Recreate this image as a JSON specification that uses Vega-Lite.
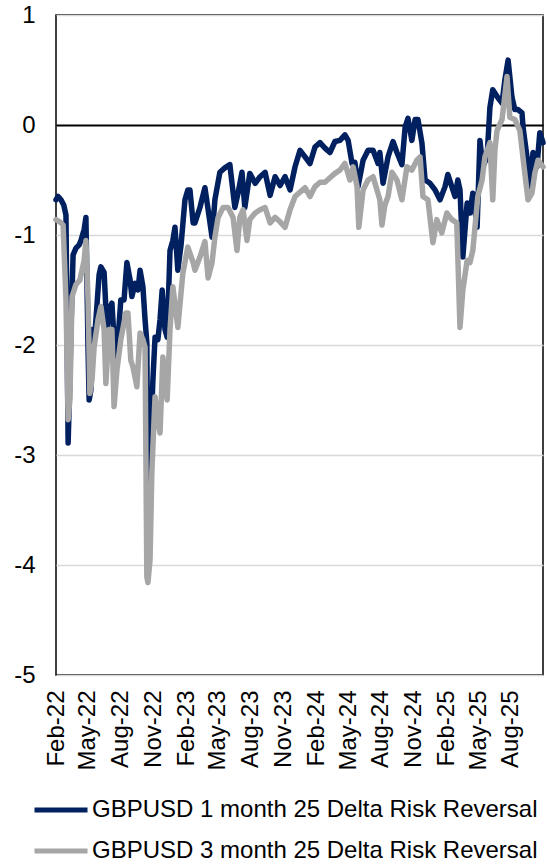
{
  "$schema": "https://vega.github.io/schema/vega-lite/v6.json",
  "width": 487,
  "height": 660,
  "autosize": {"type": "none"},
  "padding": {"left": 56, "top": 15, "right": 4, "bottom": 191},
  "background": "white",
  "config": {
    "view": {"stroke": "black", "strokeWidth": 1.5},
    "font": "Liberation Sans",
    "axis": {"title": null, "domain": false, "ticks": false, "labelFont": "Liberation Sans", "labelFontSize": 24, "labelColor": "black", "grid": false}
  },
  "datasets": {
    "m1": [
      {"date": "2022-02-01", "value": -0.68}, {"date": "2022-02-07", "value": -0.65}, {"date": "2022-02-15", "value": -0.68}, {"date": "2022-02-23", "value": -0.73},
      {"date": "2022-03-01", "value": -0.82}, {"date": "2022-03-07", "value": -2.89}, {"date": "2022-03-12", "value": -2.32}, {"date": "2022-03-15", "value": -1.86},
      {"date": "2022-03-21", "value": -1.18}, {"date": "2022-03-29", "value": -1.12}, {"date": "2022-04-07", "value": -1.09}, {"date": "2022-04-12", "value": -1.05},
      {"date": "2022-04-21", "value": -0.95}, {"date": "2022-04-26", "value": -0.84}, {"date": "2022-05-02", "value": -2.05}, {"date": "2022-05-05", "value": -2.5},
      {"date": "2022-05-10", "value": -2.41}, {"date": "2022-05-13", "value": -1.86}, {"date": "2022-05-21", "value": -1.91}, {"date": "2022-06-02", "value": -1.36},
      {"date": "2022-06-07", "value": -1.29}, {"date": "2022-06-16", "value": -1.34}, {"date": "2022-06-24", "value": -1.86}, {"date": "2022-06-30", "value": -1.68},
      {"date": "2022-07-08", "value": -1.62}, {"date": "2022-07-14", "value": -1.95}, {"date": "2022-07-19", "value": -2.25}, {"date": "2022-07-25", "value": -1.95},
      {"date": "2022-08-02", "value": -1.59}, {"date": "2022-08-11", "value": -1.59}, {"date": "2022-08-19", "value": -1.25}, {"date": "2022-08-28", "value": -1.41},
      {"date": "2022-09-02", "value": -1.56}, {"date": "2022-09-11", "value": -1.44}, {"date": "2022-09-19", "value": -1.5}, {"date": "2022-09-25", "value": -1.32},
      {"date": "2022-10-03", "value": -1.47}, {"date": "2022-10-09", "value": -1.77}, {"date": "2022-10-14", "value": -1.98}, {"date": "2022-10-17", "value": -3.62},
      {"date": "2022-10-23", "value": -3.14}, {"date": "2022-10-26", "value": -2.75}, {"date": "2022-10-31", "value": -2.32}, {"date": "2022-11-06", "value": -1.93},
      {"date": "2022-11-14", "value": -1.95}, {"date": "2022-11-20", "value": -1.77}, {"date": "2022-11-26", "value": -1.5}, {"date": "2022-12-04", "value": -1.86},
      {"date": "2022-12-10", "value": -1.93}, {"date": "2022-12-18", "value": -1.14}, {"date": "2022-12-26", "value": -1.05}, {"date": "2023-01-01", "value": -0.93},
      {"date": "2023-01-09", "value": -1.32}, {"date": "2023-01-18", "value": -1.09}, {"date": "2023-01-29", "value": -0.68}, {"date": "2023-02-06", "value": -0.59},
      {"date": "2023-02-12", "value": -0.59}, {"date": "2023-02-21", "value": -0.89}, {"date": "2023-02-26", "value": -0.89}, {"date": "2023-03-12", "value": -0.75},
      {"date": "2023-03-26", "value": -0.57}, {"date": "2023-04-04", "value": -0.77}, {"date": "2023-04-15", "value": -1.02}, {"date": "2023-04-23", "value": -0.68},
      {"date": "2023-05-07", "value": -0.43}, {"date": "2023-05-21", "value": -0.39}, {"date": "2023-06-04", "value": -0.36}, {"date": "2023-06-18", "value": -0.75},
      {"date": "2023-06-27", "value": -0.62}, {"date": "2023-07-08", "value": -0.43}, {"date": "2023-07-16", "value": -0.75}, {"date": "2023-07-30", "value": -0.44},
      {"date": "2023-08-14", "value": -0.53}, {"date": "2023-08-28", "value": -0.47}, {"date": "2023-09-11", "value": -0.43}, {"date": "2023-09-25", "value": -0.64},
      {"date": "2023-10-09", "value": -0.47}, {"date": "2023-10-23", "value": -0.55}, {"date": "2023-11-06", "value": -0.47}, {"date": "2023-11-20", "value": -0.59},
      {"date": "2023-12-04", "value": -0.38}, {"date": "2023-12-18", "value": -0.23}, {"date": "2024-01-01", "value": -0.29}, {"date": "2024-01-15", "value": -0.35},
      {"date": "2024-01-29", "value": -0.2}, {"date": "2024-02-12", "value": -0.16}, {"date": "2024-02-26", "value": -0.21}, {"date": "2024-03-11", "value": -0.25},
      {"date": "2024-03-25", "value": -0.15}, {"date": "2024-04-08", "value": -0.14}, {"date": "2024-04-22", "value": -0.09}, {"date": "2024-05-01", "value": -0.14},
      {"date": "2024-05-12", "value": -0.35}, {"date": "2024-05-20", "value": -0.34}, {"date": "2024-05-29", "value": -0.56}, {"date": "2024-06-12", "value": -0.32},
      {"date": "2024-06-26", "value": -0.23}, {"date": "2024-07-10", "value": -0.23}, {"date": "2024-07-24", "value": -0.35}, {"date": "2024-07-29", "value": -0.25},
      {"date": "2024-08-07", "value": -0.53}, {"date": "2024-08-21", "value": -0.29}, {"date": "2024-09-04", "value": -0.15}, {"date": "2024-09-15", "value": -0.25},
      {"date": "2024-09-29", "value": -0.36}, {"date": "2024-10-08", "value": -0.02}, {"date": "2024-10-16", "value": 0.06}, {"date": "2024-10-27", "value": -0.14},
      {"date": "2024-11-05", "value": 0.05}, {"date": "2024-11-13", "value": 0.05}, {"date": "2024-11-24", "value": -0.16}, {"date": "2024-12-03", "value": -0.5},
      {"date": "2024-12-17", "value": -0.53}, {"date": "2024-12-31", "value": -0.59}, {"date": "2025-01-14", "value": -0.68}, {"date": "2025-01-28", "value": -0.56},
      {"date": "2025-02-05", "value": -0.45}, {"date": "2025-02-16", "value": -0.56}, {"date": "2025-02-25", "value": -0.65}, {"date": "2025-03-05", "value": -0.5},
      {"date": "2025-03-11", "value": -0.59}, {"date": "2025-03-19", "value": -1.2}, {"date": "2025-03-31", "value": -0.71}, {"date": "2025-04-08", "value": -0.8},
      {"date": "2025-04-16", "value": -0.62}, {"date": "2025-04-28", "value": -0.93}, {"date": "2025-05-06", "value": -0.14}, {"date": "2025-05-14", "value": -0.38},
      {"date": "2025-05-26", "value": -0.29}, {"date": "2025-06-03", "value": 0.16}, {"date": "2025-06-11", "value": 0.32}, {"date": "2025-06-25", "value": 0.25},
      {"date": "2025-07-07", "value": 0.2}, {"date": "2025-07-15", "value": 0.41}, {"date": "2025-07-24", "value": 0.59}, {"date": "2025-08-04", "value": 0.25},
      {"date": "2025-08-12", "value": 0.14}, {"date": "2025-08-21", "value": 0.14}, {"date": "2025-09-01", "value": 0.11}, {"date": "2025-09-04", "value": -0.02},
      {"date": "2025-09-15", "value": -0.29}, {"date": "2025-09-23", "value": -0.56}, {"date": "2025-10-02", "value": -0.25}, {"date": "2025-10-13", "value": -0.38},
      {"date": "2025-10-21", "value": -0.07}, {"date": "2025-10-30", "value": -0.16}
    ],
    "m3": [
      {"date": "2022-02-01", "value": -0.86}, {"date": "2022-02-12", "value": -0.88}, {"date": "2022-02-21", "value": -0.91}, {"date": "2022-03-01", "value": -1.59},
      {"date": "2022-03-07", "value": -2.68}, {"date": "2022-03-12", "value": -2.5}, {"date": "2022-03-18", "value": -1.56}, {"date": "2022-03-29", "value": -1.45},
      {"date": "2022-04-09", "value": -1.41}, {"date": "2022-04-21", "value": -1.23}, {"date": "2022-04-26", "value": -1.05}, {"date": "2022-05-02", "value": -1.59},
      {"date": "2022-05-07", "value": -2.44}, {"date": "2022-05-13", "value": -2.32}, {"date": "2022-05-19", "value": -2.02}, {"date": "2022-05-30", "value": -1.77},
      {"date": "2022-06-07", "value": -1.65}, {"date": "2022-06-16", "value": -1.86}, {"date": "2022-06-21", "value": -2.35}, {"date": "2022-06-30", "value": -1.86},
      {"date": "2022-07-08", "value": -1.86}, {"date": "2022-07-14", "value": -2.56}, {"date": "2022-07-22", "value": -2.23}, {"date": "2022-08-02", "value": -1.95},
      {"date": "2022-08-16", "value": -1.71}, {"date": "2022-08-22", "value": -1.71}, {"date": "2022-08-30", "value": -2.14}, {"date": "2022-09-05", "value": -2.2},
      {"date": "2022-09-16", "value": -2.38}, {"date": "2022-09-25", "value": -1.89}, {"date": "2022-10-03", "value": -1.95}, {"date": "2022-10-09", "value": -2.02},
      {"date": "2022-10-14", "value": -4.11}, {"date": "2022-10-17", "value": -4.16}, {"date": "2022-10-23", "value": -3.95}, {"date": "2022-10-28", "value": -3.16},
      {"date": "2022-11-06", "value": -2.47}, {"date": "2022-11-14", "value": -2.68}, {"date": "2022-11-20", "value": -2.8}, {"date": "2022-11-28", "value": -2.11},
      {"date": "2022-12-10", "value": -2.5}, {"date": "2022-12-18", "value": -1.86}, {"date": "2022-12-26", "value": -1.47}, {"date": "2023-01-09", "value": -1.84},
      {"date": "2023-01-23", "value": -1.35}, {"date": "2023-02-06", "value": -1.11}, {"date": "2023-02-21", "value": -1.25}, {"date": "2023-02-26", "value": -1.32},
      {"date": "2023-03-12", "value": -1.2}, {"date": "2023-03-26", "value": -1.06}, {"date": "2023-04-04", "value": -1.39}, {"date": "2023-04-15", "value": -1.25},
      {"date": "2023-04-23", "value": -1.02}, {"date": "2023-05-02", "value": -0.84}, {"date": "2023-05-16", "value": -0.75}, {"date": "2023-05-30", "value": -0.75},
      {"date": "2023-06-13", "value": -0.84}, {"date": "2023-06-24", "value": -1.14}, {"date": "2023-07-02", "value": -0.84}, {"date": "2023-07-11", "value": -0.77},
      {"date": "2023-07-22", "value": -1.05}, {"date": "2023-07-30", "value": -0.86}, {"date": "2023-08-14", "value": -0.8}, {"date": "2023-08-28", "value": -0.77},
      {"date": "2023-09-11", "value": -0.75}, {"date": "2023-09-25", "value": -0.89}, {"date": "2023-10-09", "value": -0.84}, {"date": "2023-10-23", "value": -0.88},
      {"date": "2023-11-06", "value": -0.93}, {"date": "2023-11-20", "value": -0.77}, {"date": "2023-12-04", "value": -0.65}, {"date": "2023-12-18", "value": -0.61},
      {"date": "2024-01-01", "value": -0.57}, {"date": "2024-01-15", "value": -0.65}, {"date": "2024-01-29", "value": -0.56}, {"date": "2024-02-12", "value": -0.52},
      {"date": "2024-02-26", "value": -0.52}, {"date": "2024-03-11", "value": -0.48}, {"date": "2024-03-25", "value": -0.44}, {"date": "2024-04-08", "value": -0.41},
      {"date": "2024-04-22", "value": -0.35}, {"date": "2024-05-06", "value": -0.5}, {"date": "2024-05-15", "value": -0.38}, {"date": "2024-05-26", "value": -0.56},
      {"date": "2024-05-31", "value": -0.93}, {"date": "2024-06-12", "value": -0.59}, {"date": "2024-06-26", "value": -0.5}, {"date": "2024-07-10", "value": -0.47},
      {"date": "2024-07-29", "value": -0.68}, {"date": "2024-08-04", "value": -0.91}, {"date": "2024-08-12", "value": -0.73}, {"date": "2024-08-21", "value": -0.65},
      {"date": "2024-09-01", "value": -0.43}, {"date": "2024-09-15", "value": -0.5}, {"date": "2024-09-29", "value": -0.68}, {"date": "2024-10-13", "value": -0.38},
      {"date": "2024-10-27", "value": -0.41}, {"date": "2024-11-10", "value": -0.32}, {"date": "2024-11-19", "value": -0.29}, {"date": "2024-11-27", "value": -0.65},
      {"date": "2024-12-11", "value": -0.68}, {"date": "2024-12-25", "value": -1.07}, {"date": "2025-01-05", "value": -0.86}, {"date": "2025-01-19", "value": -0.98},
      {"date": "2025-02-02", "value": -0.8}, {"date": "2025-02-16", "value": -0.86}, {"date": "2025-03-02", "value": -0.89}, {"date": "2025-03-11", "value": -1.84},
      {"date": "2025-03-19", "value": -1.5}, {"date": "2025-03-31", "value": -1.23}, {"date": "2025-04-08", "value": -1.25}, {"date": "2025-04-16", "value": -1.14},
      {"date": "2025-04-30", "value": -0.65}, {"date": "2025-05-12", "value": -0.5}, {"date": "2025-05-20", "value": -0.29}, {"date": "2025-06-03", "value": -0.16},
      {"date": "2025-06-11", "value": -0.68}, {"date": "2025-06-17", "value": -0.23}, {"date": "2025-06-23", "value": -0.05}, {"date": "2025-07-07", "value": 0.05},
      {"date": "2025-07-21", "value": 0.44}, {"date": "2025-07-29", "value": 0.07}, {"date": "2025-08-12", "value": 0.05}, {"date": "2025-08-26", "value": -0.05},
      {"date": "2025-09-09", "value": -0.44}, {"date": "2025-09-18", "value": -0.68}, {"date": "2025-09-29", "value": -0.62}, {"date": "2025-10-07", "value": -0.44},
      {"date": "2025-10-16", "value": -0.32}, {"date": "2025-10-30", "value": -0.38}
    ]
  },
  "encoding": {
    "x": {"field": "date", "type": "temporal",
      "scale": {"type": "utc", "domain": [1643673600000, 1761782400000]},
      "axis": {"labelExpr": "utcFormat(datum.value, '%b-%y')", "labelAngle": -90, "labelPadding": 15, "labelOverlap": false, "labelFlush": false, "labelBound": false,
        "values": [1643673600000, 1651363200000, 1659312000000, 1667260800000, 1675209600000, 1682899200000, 1690848000000, 1698796800000, 1706745600000, 1714521600000, 1722470400000, 1730419200000, 1738368000000, 1746057600000, 1754006400000]}},
    "y": {"field": "value", "type": "quantitative", "scale": {"domain": [-5, 1], "nice": false, "zero": false},
      "axis": {"values": [1, 0, -1, -2, -3, -4, -5], "labelExpr": "toString(datum.value)", "labelPadding": 21, "grid": true,
        "gridColor": {"condition": {"test": "datum.value === 0", "value": "black"}, "value": "#D9D9D9"},
        "gridWidth": {"condition": {"test": "datum.value === 0", "value": 2}, "value": 1.5}}}
  },
  "layer": [
    {
      "data": {"name": "m1"},
      "mark": {"type": "line", "strokeWidth": 5.5, "strokeJoin": "round", "strokeCap": "round"},
      "encoding": {
        "color": {"datum": "GBPUSD 1 month 25 Delta Risk Reversal", "type": "nominal",
          "scale": {"domain": ["GBPUSD 1 month 25 Delta Risk Reversal", "GBPUSD 3 month 25 Delta Risk Reversal"], "range": ["#002060", "#A6A6A6"]},
          "legend": {"orient": "none", "legendX": -24, "legendY": 766, "direction": "vertical", "title": null, "padding": 0,
            "symbolType": "stroke", "symbolSize": 2809, "symbolStrokeWidth": 5, "labelFont": "Liberation Sans", "labelFontSize": 24, "labelColor": "black",
            "labelLimit": 600, "labelOffset": 2, "rowPadding": -10}}
      }
    },
    {
      "data": {"name": "m3"},
      "mark": {"type": "line", "strokeWidth": 5.5, "strokeJoin": "round", "strokeCap": "round"},
      "encoding": {
        "color": {"datum": "GBPUSD 3 month 25 Delta Risk Reversal", "type": "nominal"}
      }
    }
  ]
}
